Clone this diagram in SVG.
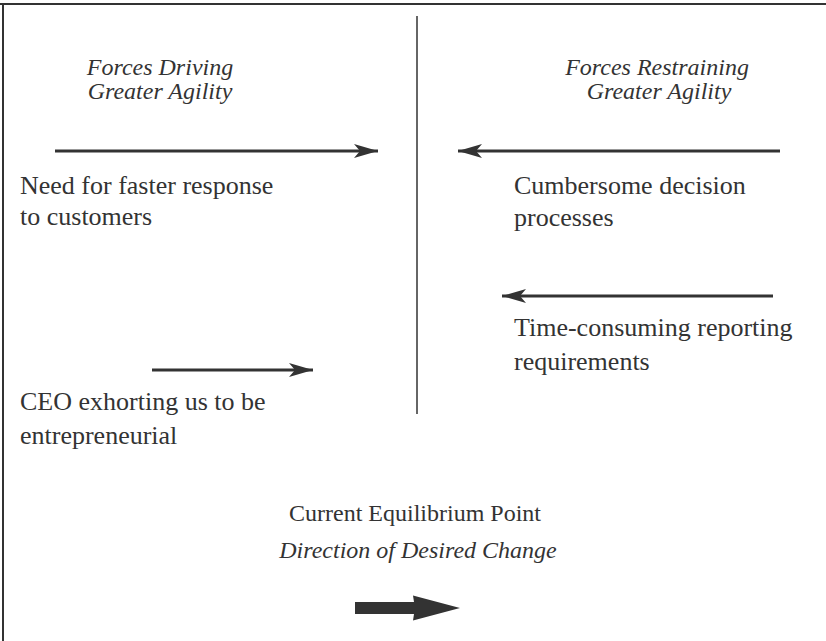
<svg xmlns="http://www.w3.org/2000/svg" width="826" height="641" viewBox="0 0 826 641">
  <style>
    .body { font-family: "Liberation Serif", "DejaVu Serif", "Times New Roman", serif; font-size: 26px; fill: #333; }
    .ital { font-family: "Liberation Serif", "DejaVu Serif", "Times New Roman", serif; font-size: 24px; font-style: italic; fill: #333; }
    .arrow { stroke: #333; stroke-width: 3; fill: none; }
    .frame { stroke: #333; stroke-width: 2; fill: none; }
  </style>
  <defs>
    <marker id="head" markerUnits="userSpaceOnUse" markerWidth="26" markerHeight="16" viewBox="0 0 26 16" refX="24" refY="8" orient="auto">
      <path d="M0,1 L24,8 L0,15 L6,8 Z" fill="#333"/>
    </marker>
  </defs>
  <rect width="826" height="641" fill="#fff"/>
  <g id="frame">
    <line class="frame" x1="0" y1="4" x2="826" y2="4"/>
    <line class="frame" x1="3" y1="4" x2="3" y2="641"/>
    <line x1="417" y1="16" x2="417" y2="414" stroke="#666" stroke-width="2"/>
  </g>
  <g id="connectors">
    <line class="arrow" x1="55" y1="151" x2="378" y2="151" marker-end="url(#head)"/>
    <line class="arrow" x1="780" y1="151" x2="458" y2="151" marker-end="url(#head)"/>
    <line class="arrow" x1="773" y1="296" x2="502" y2="296" marker-end="url(#head)"/>
    <line class="arrow" x1="152" y1="370" x2="313" y2="370" marker-end="url(#head)"/>
    <path d="M355,602 L414,602 L413,595.5 L460,608 L413,620.5 L414,614 L355,614 Z" fill="#333"/>
  </g>
  <g id="driving-title">
    <text class="ital" x="160" y="75" text-anchor="middle">Forces Driving</text>
    <text class="ital" x="160" y="99" text-anchor="middle">Greater Agility</text>
  </g>
  <g id="restraining-title">
    <text class="ital" x="657" y="75" text-anchor="middle">Forces Restraining</text>
    <text class="ital" x="659" y="99" text-anchor="middle">Greater Agility</text>
  </g>
  <g id="need">
    <text class="body" x="20" y="194">Need for faster response</text>
    <text class="body" x="20" y="225">to customers</text>
  </g>
  <g id="cumbersome">
    <text class="body" x="514" y="194">Cumbersome decision</text>
    <text class="body" x="514" y="226">processes</text>
  </g>
  <g id="time">
    <text class="body" x="514" y="336">Time-consuming reporting</text>
    <text class="body" x="514" y="370">requirements</text>
  </g>
  <g id="ceo">
    <text class="body" x="20" y="410">CEO exhorting us to be</text>
    <text class="body" x="20" y="444">entrepreneurial</text>
  </g>
  <g id="equilibrium">
    <text class="body" x="415" y="521" text-anchor="middle" style="font-size:24px">Current Equilibrium Point</text>
    <text class="ital" x="418" y="558" text-anchor="middle">Direction of Desired Change</text>
  </g>
</svg>
